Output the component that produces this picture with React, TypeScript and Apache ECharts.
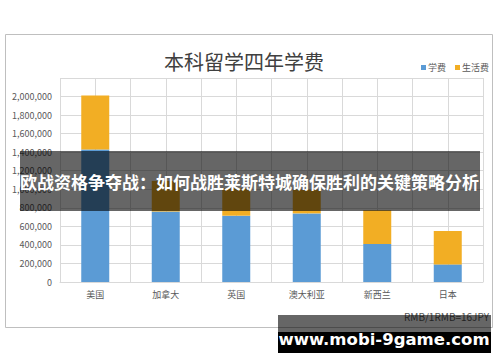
import React, { useEffect, useRef } from "react";
import * as echarts from "echarts";

const categories = ["美国", "加拿大", "英国", "澳大利亚", "新西兰", "日本"];
const tuition = [1430000, 760000, 715000, 740000, 410000, 190000];
const living = [580000, 330000, 295000, 255000, 365000, 360000];
const seriesNames = ["学费", "生活费"];
const yMax = 2200000;
const yStep = 200000;

const FONT = "'Noto Sans CJK SC', 'Noto Sans', sans-serif";

export default function App() {
  const ref = useRef<HTMLDivElement>(null);
  useEffect(() => {
    if (!ref.current) return;
    const chart = echarts.init(ref.current, null, { renderer: "svg" });
    chart.setOption({
      animation: false,
      backgroundColor: "#ffffff",
      textStyle: { fontFamily: FONT },
      title: {
        text: "本科留学四年学费",
        left: 159,
        top: 46,
        textStyle: { fontSize: 20, fontWeight: "normal", color: "#404040", fontFamily: FONT },
      },
      legend: {
        data: seriesNames,
        left: 416,
        top: 58,
        itemWidth: 5,
        itemHeight: 5,
        itemGap: 9,
        icon: "rect",
        textStyle: { fontSize: 9, color: "#595959", padding: [0, 0, 0, -3] },
      },
      grid: { left: 60, right: 17, top: 78, bottom: 80 },
      xAxis: [
        {
          type: "category",
          data: categories,
          boundaryGap: true,
          axisLine: { show: true, lineStyle: { color: "#D9D9D9" } },
          axisTick: { show: false },
          splitLine: { show: false },
          axisLabel: { fontSize: 9, color: "#595959", margin: 8 },
        },
        {
          type: "value",
          min: 0,
          max: 12,
          interval: 1,
          position: "bottom",
          axisLine: { show: false },
          axisTick: { show: false },
          axisLabel: { show: false },
          splitLine: { show: true, lineStyle: { color: "#D9D9D9", width: 1 } },
        },
      ],
      yAxis: {
        type: "value",
        min: 0,
        max: yMax,
        interval: yStep,
        axisLine: { show: false },
        axisTick: { show: false },
        splitLine: { show: true, lineStyle: { color: "#D9D9D9", width: 1 } },
        axisLabel: {
          fontSize: 9,
          color: "#595959",
          margin: 8,
          formatter: (v: number) => (v >= yMax ? "" : v.toLocaleString("en-US")),
        },
      },
      series: [
        {
          name: seriesNames[0],
          type: "bar",
          stack: "total",
          data: tuition,
          barWidth: 28,
          itemStyle: { color: "#5B9BD5" },
        },
        {
          name: seriesNames[1],
          type: "bar",
          stack: "total",
          data: living,
          barWidth: 28,
          itemStyle: { color: "#F2AE24" },
        },
      ],
      graphic: [
        {
          type: "rect",
          shape: { x: 5.5, y: 34.5, width: 487, height: 293 },
          style: { fill: "none", stroke: "#BFBFBF", lineWidth: 1 },
          z: 1,
        },
        {
          type: "text",
          x: 489,
          y: 316,
          style: {
            text: "RMB/1RMB=16JPY",
            fontSize: 10,
            fill: "#595959",
            align: "right",
            verticalAlign: "middle",
            fontFamily: FONT,
          },
          z: 10,
        },
        {
          type: "rect",
          shape: { x: 20, y: 151, width: 460, height: 60 },
          style: { fill: "rgba(0,0,0,0.6)" },
          z: 20,
        },
        {
          type: "text",
          x: 20,
          y: 181,
          style: {
            text: "欧战资格争夺战：如何战胜莱斯特城确保胜利的关键策略分析",
            fontSize: 17,
            fontWeight: "bold",
            fill: "#ffffff",
            align: "left",
            verticalAlign: "middle",
            fontFamily: FONT,
          },
          z: 21,
        },
        {
          type: "rect",
          shape: { x: 278, y: 315, width: 213, height: 17 },
          style: { fill: "rgba(0,0,0,0.6)" },
          z: 20,
        },
        {
          type: "rect",
          shape: { x: 278, y: 332, width: 213, height: 21 },
          style: { fill: "#000000" },
          z: 20,
        },
        {
          type: "text",
          x: 384,
          y: 339,
          style: {
            text: "www.mobi-9game.com",
            fontSize: 16.5,
            fontWeight: "bold",
            fill: "#ffffff",
            align: "center",
            verticalAlign: "middle",
            fontFamily: "'DejaVu Sans', 'Noto Sans', sans-serif",
          },
          z: 21,
        },
      ],
    });
    return () => chart.dispose();
  }, []);
  return (
    <div
      ref={ref}
      style={{ position: "fixed", left: 0, top: 0, width: 500, height: 362 }}
    />
  );
}
